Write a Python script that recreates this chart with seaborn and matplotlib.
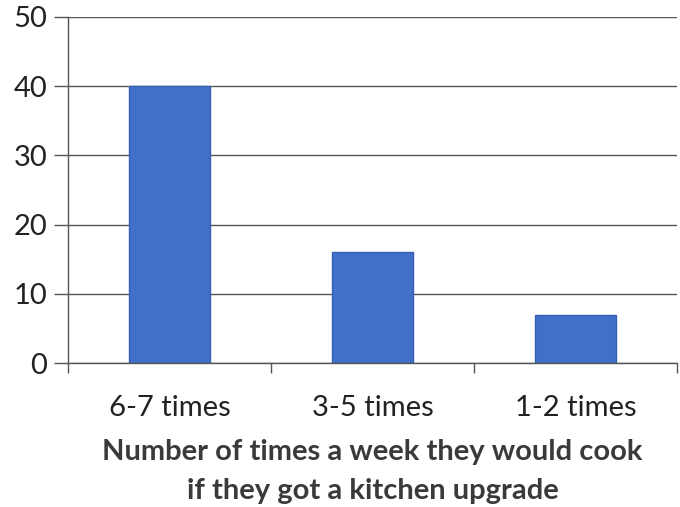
import matplotlib
matplotlib.use("Agg")
import matplotlib.pyplot as plt
import seaborn as sns
import pandas as pd

categories = ["6-7 times", "3-5 times", "1-2 times"]
counts = [40, 16, 7]
y_ticks = [0, 10, 20, 30, 40, 50]

sns.set_theme(style="white")
plt.rcParams["font.family"] = ["Lato", "DejaVu Sans"]

df = pd.DataFrame({"category": categories, "count": counts})

fig = plt.figure(figsize=(6.8, 5.07), dpi=100)
ax = fig.add_axes([0.1, 0.284, 0.8956, 0.6825])

sns.barplot(data=df, x="category", y="count", ax=ax, color="#4170c8",
            width=0.4, edgecolor="#3560b5", linewidth=1.0, saturation=1)

ax.set_xlim(-0.5, len(categories) - 0.5)
ax.set_ylim(0, 50)
ax.set_yticks(y_ticks)
ax.yaxis.grid(True, color="#555555", linewidth=1.0)
ax.set_axisbelow(True)

for side in ["top", "right"]:
    ax.spines[side].set_visible(False)
for side in ["left", "bottom"]:
    ax.spines[side].set_color("#555555")
    ax.spines[side].set_linewidth(1.0)

ax.tick_params(axis="y", which="major", direction="out", length=10, width=1.0,
               color="#555555", labelsize=21, labelcolor="#222222", pad=5,
               left=True)
ax.tick_params(axis="x", which="major", length=0, labelsize=21,
               labelcolor="#222222", pad=23)
ax.set_xticks([i - 0.5 for i in range(len(categories) + 1)], minor=True)
ax.tick_params(axis="x", which="minor", direction="out", length=7, width=1.0,
               color="#555555", bottom=True)

ax.set_ylabel("")
ax.set_xlabel("Number of times a week they would cook\nif they got a kitchen upgrade",
              fontsize=21, fontweight="bold", color="#3a3a3a", labelpad=13,
              linespacing=1.6)

fig.savefig("out.png", dpi=100)
